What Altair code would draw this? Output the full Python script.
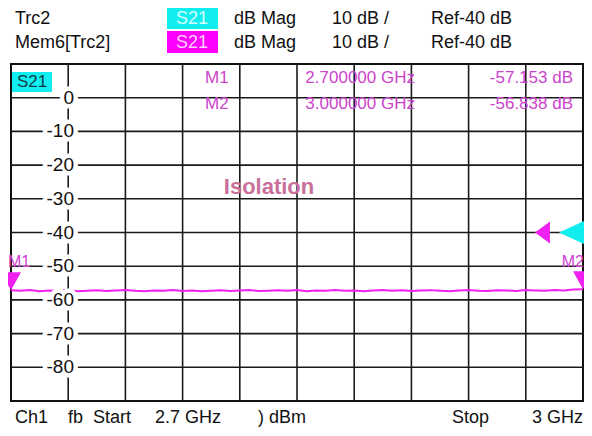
import altair as alt
import pandas as pd

FONT = "Liberation Sans"
MAG = "#f020f0"
CYAN = "#10eef0"
GRID = "#1a1a1a"

# ---------------- data ----------------
freq_ghz = [2.700, 2.705, 2.710, 2.715, 2.720, 2.725, 2.730, 2.735, 2.740, 2.745,
            2.750, 2.755, 2.760, 2.765, 2.770, 2.775, 2.780, 2.785, 2.790, 2.795,
            2.800, 2.805, 2.810, 2.815, 2.820, 2.825, 2.830, 2.835, 2.840, 2.845,
            2.850, 2.855, 2.860, 2.865, 2.870, 2.875, 2.880, 2.885, 2.890, 2.895,
            2.900, 2.905, 2.910, 2.915, 2.920, 2.925, 2.930, 2.935, 2.940, 2.945,
            2.950, 2.955, 2.960, 2.965, 2.970, 2.975, 2.980, 2.985, 2.990, 2.995,
            3.000]
mem_db = [-57.15, -57.30, -57.05, -57.40, -57.20, -57.35, -57.10, -57.45, -57.25, -57.15,
          -57.38, -57.22, -57.05, -57.30, -57.42, -57.18, -57.28, -57.08, -57.35, -57.20,
          -57.45, -57.25, -57.12, -57.33, -57.20, -57.05, -57.38, -57.25, -57.15, -57.30,
          -57.10, -57.40, -57.22, -57.32, -57.08, -57.28, -57.18, -57.42, -57.20, -57.05,
          -57.30, -57.15, -57.35, -57.22, -57.10, -57.28, -57.40, -57.18, -57.05, -57.25,
          -57.33, -57.12, -57.22, -57.38, -57.08, -57.20, -57.30, -57.05, -57.18, -56.95,
          -56.84]

x_grid = [2.73, 2.76, 2.79, 2.82, 2.85, 2.88, 2.91, 2.94, 2.97]
y_ticks = [0, -10, -20, -30, -40, -50, -60, -70, -80]
y_tick_labels = ["0", "-10", "-20", "-30", "-40", "-50", "-60", "-70", "-80"]

marker_names = ["M1", "M2"]
marker_freq = [2.7, 3.0]
marker_db = [-57.153, -56.838]
marker_freq_text = ["2.700000 GHz", "3.000000 GHz"]
marker_val_text = ["-57.153 dB", "-56.838 dB"]

ref_level = [-40]

W, H = 572, 337

xscale = alt.Scale(domain=[2.7, 3.0], nice=False, zero=False)
yscale = alt.Scale(domain=[-90, 10], nice=False, zero=False)

one = pd.DataFrame({"a": [0]})


def txt(s, x, y, size=18, color="#111111", align="left", weight="normal"):
    return alt.Chart(one).mark_text(
        text=s, align=align, baseline="middle", fontSize=size, color=color,
        fontWeight=weight, font=FONT
    ).encode(x=alt.value(x), y=alt.value(y))


def box(x1, x2, y1, y2, color):
    return alt.Chart(one).mark_rect(color=color).encode(
        x=alt.value(x1), x2=alt.value(x2), y=alt.value(y1), y2=alt.value(y2))


vgrid = alt.Chart(pd.DataFrame({"g": x_grid})).mark_rule(color=GRID, strokeWidth=1.6).encode(
    x=alt.X("g:Q", scale=xscale, axis=None))
hgrid = alt.Chart(pd.DataFrame({"v": y_ticks})).mark_rule(color=GRID, strokeWidth=1.6).encode(
    y=alt.Y("v:Q", scale=yscale, axis=None))

trace_df = pd.DataFrame({"f": freq_ghz, "db": mem_db})
trace = alt.Chart(trace_df).mark_line(color=MAG, strokeWidth=2).encode(
    x=alt.X("f:Q", scale=xscale, axis=None),
    y=alt.Y("db:Q", scale=yscale, axis=None),
)

lab_df = pd.DataFrame({"v": y_ticks, "lab": y_tick_labels})
lab_halo = alt.Chart(lab_df).mark_text(
    align="right", baseline="middle", fontSize=19, font=FONT,
    color="white", stroke="white", strokeWidth=9
).encode(x=alt.value(63), y=alt.Y("v:Q", scale=yscale, axis=None), text="lab:N")
lab_txt = alt.Chart(lab_df).mark_text(
    align="right", baseline="middle", fontSize=19, font=FONT, color="#111111"
).encode(x=alt.value(63), y=alt.Y("v:Q", scale=yscale, axis=None), text="lab:N")

mk_df = pd.DataFrame({"f": marker_freq, "db": marker_db, "name": marker_names})
mk_tri = alt.Chart(mk_df).mark_point(
    shape="M -1 -1.8 L 1 -1.8 L 0 0 Z", filled=True, size=400, color=MAG, opacity=1
).encode(x=alt.X("f:Q", scale=xscale, axis=None), y=alt.Y("db:Q", scale=yscale, axis=None))

ref_df = pd.DataFrame({"ref": ref_level})
ref_mag = alt.Chart(ref_df).mark_point(
    shape="M 0 0 L 1.36 -1 L 1.36 1 Z", filled=True, size=484, color=MAG, opacity=1
).encode(x=alt.value(524), y=alt.Y("ref:Q", scale=yscale, axis=None))
ref_cyan = alt.Chart(ref_df).mark_point(
    shape="M 0 0 L 2.17 -1 L 2.17 1 Z", filled=True, size=576, color=CYAN, opacity=1
).encode(x=alt.value(548), y=alt.Y("ref:Q", scale=yscale, axis=None))

MTXT = "#cc44cc"
L1, L2 = -45, -21
layers = [
    vgrid, hgrid, trace, lab_halo, lab_txt, ref_mag, ref_cyan, mk_tri,
    # marker flags
    txt(marker_names[0], -3, 198, size=16, color="#d040d0"),
    txt(marker_names[1], W + 1, 198, size=16, color="#d040d0", align="right"),
    # inner S21 badge
    box(1, 41, 8, 28, CYAN),
    txt("S21", 21, 18, size=17, color="#0d3d48", align="center"),
    # marker readout
    txt(marker_names[0], 194, 14, color=MTXT, size=17),
    txt(marker_freq_text[0], 404, 14, color=MTXT, size=17, align="right"),
    txt(marker_val_text[0], 562, 14, color=MTXT, size=17, align="right"),
    txt(marker_names[1], 194, 40, color=MTXT, size=17),
    txt(marker_freq_text[1], 404, 40, color=MTXT, size=17, align="right"),
    txt(marker_val_text[1], 562, 40, color=MTXT, size=17, align="right"),
    # title annotation
    txt("Isolation", 258, 123, size=22, color="#c8709a", align="center", weight="bold"),
    # header
    txt("Trc2", 4, L1),
    box(156, 207, -56, -35, CYAN),
    txt("S21", 181, L1, color="#d8ffff", align="center"),
    txt("dB Mag", 223, L1),
    txt("10 dB /", 321, L1),
    txt("Ref-40 dB", 420, L1),
    txt("Mem6[Trc2]", 4, L2),
    box(156, 207, -33, -11, "#ff00ff"),
    txt("S21", 181, L2, color="#ffd0ff", align="center"),
    txt("dB Mag", 223, L2),
    txt("10 dB /", 321, L2),
    txt("Ref-40 dB", 420, L2),
    # footer
    txt("Ch1", 4, 354),
    txt("fb", 57, 354),
    txt("Start", 82, 354),
    txt("2.7 GHz", 144, 354),
    txt(") dBm", 247, 354),
    txt("Stop", 441, 354),
    txt("3 GHz", 572, 354, align="right"),
]

chart = alt.layer(*layers).properties(
    width=W, height=H,
    padding={"left": 3, "top": 56, "right": 1, "bottom": 27},
    autosize=alt.AutoSizeParams(type="none"),
    background="white",
).configure_view(stroke="#111111", strokeWidth=2)

chart.save("out.html", embed_options={"renderer": "svg", "actions": False})
